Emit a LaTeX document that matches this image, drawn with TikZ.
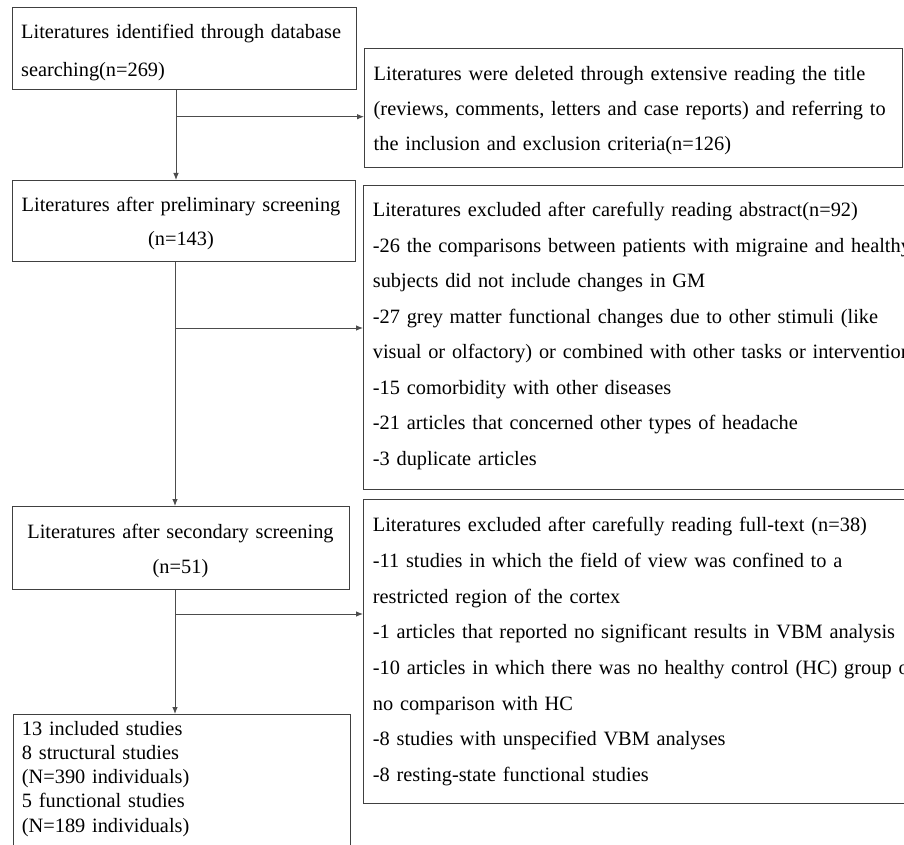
\documentclass[tikz,border=0pt]{standalone}
\usepackage{fontspec}
\setmainfont{Liberation Serif}
\usetikzlibrary{arrows.meta}
\begin{document}
\begin{tikzpicture}[x=1pt,y=-1pt,
  box/.style={draw=black!75, line width=1.3pt, inner sep=0pt, anchor=north west},
  txt/.style={inner sep=0pt, align=left, anchor=base west, text=black},
  link/.style={draw=black!70, line width=0.9pt},
  arr/.style={link, -{Latex[length=7pt,width=5.5pt]}}]
\useasboundingbox (0,0) rectangle (904,845);
\clip (0,0) rectangle (904,845);
\fill[white] (0,0) rectangle (904,845);
% boxes
\node[box, minimum width=344pt, minimum height=82pt]  (b1) at (12,7)   {};
\node[box, minimum width=538pt, minimum height=119pt] (b2) at (364,48) {};
\node[box, minimum width=343pt, minimum height=81pt]  (b3) at (12,180) {};
\node[box, minimum width=600pt, minimum height=304pt] (b4) at (363,185) {};
\node[box, minimum width=337pt, minimum height=83pt]  (b5) at (12,506) {};
\node[box, minimum width=600pt, minimum height=304pt] (b6) at (363,499) {};
\node[box, minimum width=337pt, minimum height=160pt] (b7) at (13,714) {};
% texts
\node[txt, text width=335pt, font=\fontsize{20.35}{38}\selectfont] (t1) at (21,39)
  {Literatures identified through database\\searching(n=269)};
\node[txt, text width=600pt, font=\fontsize{20.35}{35}\selectfont] (t2) at (373.5,80.5)
  {Literatures were deleted through extensive reading the title\\(reviews, comments, letters and case reports) and referring to\\the inclusion and exclusion criteria(n=126)};
\node[txt, anchor=base, align=center, text width=335pt, font=\fontsize{20.35}{34}\selectfont] (t3) at (181,211.7)
  {Literatures after preliminary screening\\(n=143)};
\node[txt, text width=620pt, font=\fontsize{20.35}{35.5}\selectfont] (t4) at (372.7,216.7)
  {Literatures excluded after carefully reading abstract(n=92)\\-26 the comparisons between patients with migraine and healthy\\subjects did not include changes in GM\\-27 grey matter functional changes due to other stimuli (like\\visual or olfactory) or combined with other tasks or interventions\\-15 comorbidity with other diseases\\-21 articles that concerned other types of headache\\-3 duplicate articles};
\node[txt, anchor=base, align=center, text width=330pt, font=\fontsize{20.35}{35}\selectfont] (t5) at (180.5,538)
  {Literatures after secondary screening\\(n=51)};
\node[txt, text width=620pt, font=\fontsize{20.35}{35.7}\selectfont] (t6) at (372.7,531.7)
  {Literatures excluded after carefully reading full-text (n=38)\\-11 studies in which the field of view was confined to a\\restricted region of the cortex\\-1 articles that reported no significant results in VBM analysis\\-10 articles in which there was no healthy control (HC) group or\\no comparison with HC\\-8 studies with unspecified VBM analyses\\-8 resting-state functional studies};
\node[txt, text width=320pt, font=\fontsize{20.35}{24.3}\selectfont] (t7) at (21.7,735)
  {13 included studies\\8 structural studies\\(N=390 individuals)\\5 functional studies\\(N=189 individuals)};
% connectors
\coordinate (xa) at (176,0);
\coordinate (xb) at (175,0);
\coordinate (ya) at (0,116.7);
\coordinate (yb) at (0,328);
\coordinate (yc) at (0,614);
\draw[arr] (b1.south -| xa) -- (b3.north -| xa);
\draw[arr] (xa |- ya) -- (b2.west |- ya);
\draw[arr] (b3.south -| xb) -- (b5.north -| xb);
\draw[arr] (xb |- yb) -- (b4.west |- yb);
\draw[arr] (b5.south -| xb) -- (b7.north -| xb);
\draw[arr] (xb |- yc) -- (b6.west |- yc);
\end{tikzpicture}
\end{document}
